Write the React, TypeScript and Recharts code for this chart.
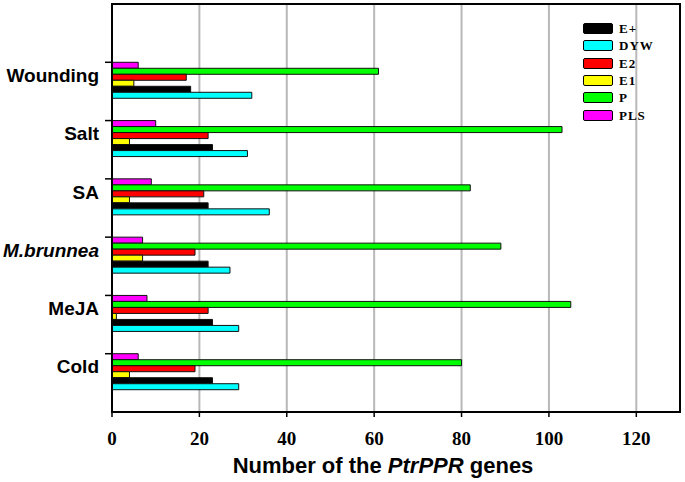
import React from 'react';
import { BarChart, Bar, XAxis, YAxis, CartesianGrid, ReferenceArea, Label } from 'recharts';

// ---- data ----
const categories = ['', 'Wounding', 'Salt', 'SA', 'M.brunnea', 'MeJA', 'Cold'];
const ePlus = [null, 18, 23, 22, 22, 23, 23];
const dyw = [null, 32, 31, 36, 27, 29, 29];
const e2 = [null, 17, 22, 21, 19, 22, 19];
const e1 = [null, 5, 4, 4, 7, 1, 4];
const pVals = [null, 61, 103, 82, 89, 105, 80];
const pls = [null, 6, 10, 9, 7, 8, 6];
const xTicks = [0, 20, 40, 60, 80, 100, 120];

const legendNames = ['E+', 'DYW', 'E2', 'E1', 'P', 'PLS'];
const legendColors = ['#000000', '#00ffff', '#ff0000', '#ffff00', '#00ff00', '#ff00ff'];

const data = categories.map((c, i) => ({
  name: c,
  pls: pls[i],
  p: pVals[i],
  e2: e2[i],
  e1: e1[i],
  ePlus: ePlus[i],
  dyw: dyw[i],
}));

// ---- layout ----
const W = 685;
const H = 482;
const MARGIN = { top: 4, right: 5, bottom: 0, left: 0 };
const Y_AXIS_W = 112;
const X_AXIS_H = 70;
const PLOT_H = H - MARGIN.top - MARGIN.bottom - X_AXIS_H;
const BAND = PLOT_H / categories.length;

const CategoryTick = (props: any) => {
  const { x, y, payload } = props;
  const name = payload?.value;
  if (!name) return <g />;
  const top = y - BAND / 2;
  const italic = name === 'M.brunnea';
  return (
    <g>
      <line x1={x - 7} x2={x} y1={top} y2={top} stroke="#000" strokeWidth={1.5} />
      <text
        x={x - 13}
        y={top + 13}
        dy="0.35em"
        textAnchor="end"
        fontFamily="'Liberation Sans', Arial, sans-serif"
        fontWeight="bold"
        fontStyle={italic ? 'italic' : 'normal'}
        fontSize={19}
        fill="#000"
      >
        {name}
      </text>
    </g>
  );
};

const NumberTick = (props: any) => {
  const { x, y, payload } = props;
  return (
    <text
      x={x}
      y={y}
      dy={26}
      textAnchor="middle"
      fontFamily="'Liberation Serif', 'Times New Roman', serif"
      fontWeight="bold"
      fontSize={19}
      fill="#000"
    >
      {payload.value}
    </text>
  );
};

const AxisTitle = (props: any) => {
  const vb = props.viewBox || { x: 112, y: 412, width: 568, height: 70 };
  return (
    <text
      x={vb.x + vb.width / 2 - 13}
      y={vb.y + 61}
      textAnchor="middle"
      fontFamily="'Liberation Sans', Arial, sans-serif"
      fontWeight="bold"
      fontSize={22}
      fill="#000"
    >
      <tspan>Number of the </tspan>
      <tspan fontStyle="italic">PtrPPR</tspan>
      <tspan> genes</tspan>
    </text>
  );
};

const LegendBox = () => (
  <div style={{ position: 'absolute', left: 583, top: 20, display: 'flex', flexDirection: 'column' }}>
    {legendNames.map((n, i) => (
      <div key={n} style={{ display: 'flex', alignItems: 'center', height: 17.3 }}>
        <div
          style={{
            width: 28,
            height: 9,
            background: legendColors[i],
            border: '1.5px solid #000',
            borderRadius: 2,
          }}
        />
        <span
          style={{
            marginLeft: 6,
            fontFamily: "'Liberation Serif', 'Times New Roman', serif",
            fontWeight: 'bold',
            fontSize: 13,
            letterSpacing: 1,
            color: '#000',
            lineHeight: '13px',
          }}
        >
          {n}
        </span>
      </div>
    ))}
  </div>
);

const BAR_STROKE = '#111';

export default function App() {
  return (
    <div style={{ position: 'absolute', left: 0, top: 0, width: W, height: H, background: '#fff' }}>
      <BarChart
        width={W}
        height={H}
        data={data}
        layout="vertical"
        margin={MARGIN}
        barCategoryGap={0}
        barGap={0}
      >
        <CartesianGrid horizontal={false} stroke="#b8b8b8" strokeWidth={2} />
        <XAxis
          type="number"
          domain={[0, 130]}
          ticks={xTicks}
          allowDataOverflow
          height={X_AXIS_H}
          tick={<NumberTick />}
          tickSize={5}
          tickLine={{ stroke: '#000', strokeWidth: 1.5 }}
          axisLine={{ stroke: '#000', strokeWidth: 2 }}
        >
          <Label content={<AxisTitle />} />
        </XAxis>
        <YAxis
          type="category"
          dataKey="name"
          width={Y_AXIS_W}
          tick={<CategoryTick />}
          tickSize={0}
          tickMargin={0}
          tickLine={false}
          interval={0}
          axisLine={{ stroke: '#000', strokeWidth: 2 }}
        />
        <Bar dataKey="pls" fill="#ff00ff" stroke={BAR_STROKE} strokeWidth={1} isAnimationActive={false} />
        <Bar dataKey="p" fill="#00ff00" stroke={BAR_STROKE} strokeWidth={1} isAnimationActive={false} />
        <Bar dataKey="e2" fill="#ff0000" stroke={BAR_STROKE} strokeWidth={1} isAnimationActive={false} />
        <Bar dataKey="e1" fill="#ffff00" stroke={BAR_STROKE} strokeWidth={1} isAnimationActive={false} />
        <Bar dataKey="ePlus" fill="#000000" stroke={BAR_STROKE} strokeWidth={1} isAnimationActive={false} />
        <Bar dataKey="dyw" fill="#00ffff" stroke={BAR_STROKE} strokeWidth={1} isAnimationActive={false} />
        <Bar dataKey="pad1" fill="none" isAnimationActive={false} />
        <Bar dataKey="pad2" fill="none" isAnimationActive={false} />
        <Bar dataKey="pad3" fill="none" isAnimationActive={false} />
        <ReferenceArea x1={0} x2={130} fill="none" stroke="#000" strokeWidth={2} ifOverflow="visible" />
      </BarChart>
      <LegendBox />
    </div>
  );
}
